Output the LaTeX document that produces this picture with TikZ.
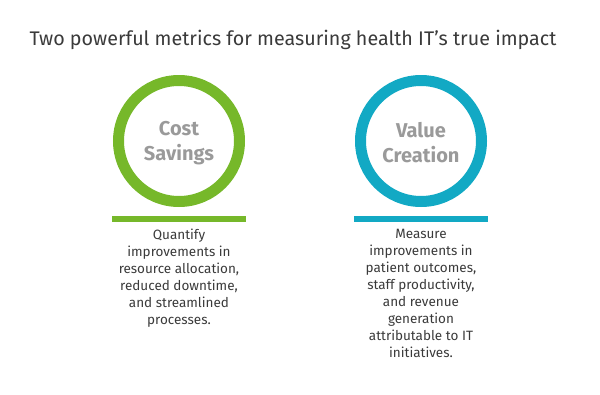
\documentclass[tikz,border=0pt]{standalone}
\usepackage{fontspec}
\setmainfont{Fira Sans}
\usetikzlibrary{positioning}
\definecolor{costgreen}{HTML}{76B82A}
\definecolor{valueblue}{HTML}{12A9C4}
\definecolor{labelgray}{HTML}{9A9A9A}
\definecolor{textgray}{HTML}{3A3A3A}

\begin{document}
\begin{tikzpicture}[x=1pt,y=-1pt,
    ring/.style={circle,draw=#1,line width=11pt,minimum size=121pt,inner sep=0pt},
    ringtext/.style={align=center,inner sep=0pt,text=labelgray,
        font=\bfseries\fontsize{20}{25}\selectfont},
    bar/.style={fill=#1,minimum width=134pt,minimum height=6pt,inner sep=0pt},
    desc/.style={anchor=north,align=center,inner sep=0pt,text=textgray,
        font=\fontsize{13.5}{17}\selectfont}]
    \useasboundingbox (0,0) rectangle (600,394);
    \node[text=textgray,font=\fontsize{19.7}{22}\selectfont] (title) at (293,40)
        {Two powerful metrics for measuring health IT’s true impact};
    \node[ring=costgreen] (cost) at (179,141) {};
    \node[ringtext] (costlabel) at ([yshift=-2pt]cost.center) {Cost\\Savings};
    \node[bar=costgreen] (costbar) at (179,219) {};
    \node[desc] (costtext) at (179,229)
        {Quantify\\improvements in\\resource allocation,\\reduced downtime,\\and streamlined\\processes.};
    \node[ring=valueblue] (value) at (421,141) {};
    \node[ringtext] (valuelabel) at ([yshift=-2pt]value.center) {Value\\Creation};
    \node[bar=valueblue] (valuebar) at (421,219) {};
    \node[desc] (valuetext) at (421,229)
        {Measure\\improvements in\\patient outcomes,\\staff productivity,\\and revenue\\generation\\attributable to IT\\initiatives.};
\end{tikzpicture}
\end{document}
